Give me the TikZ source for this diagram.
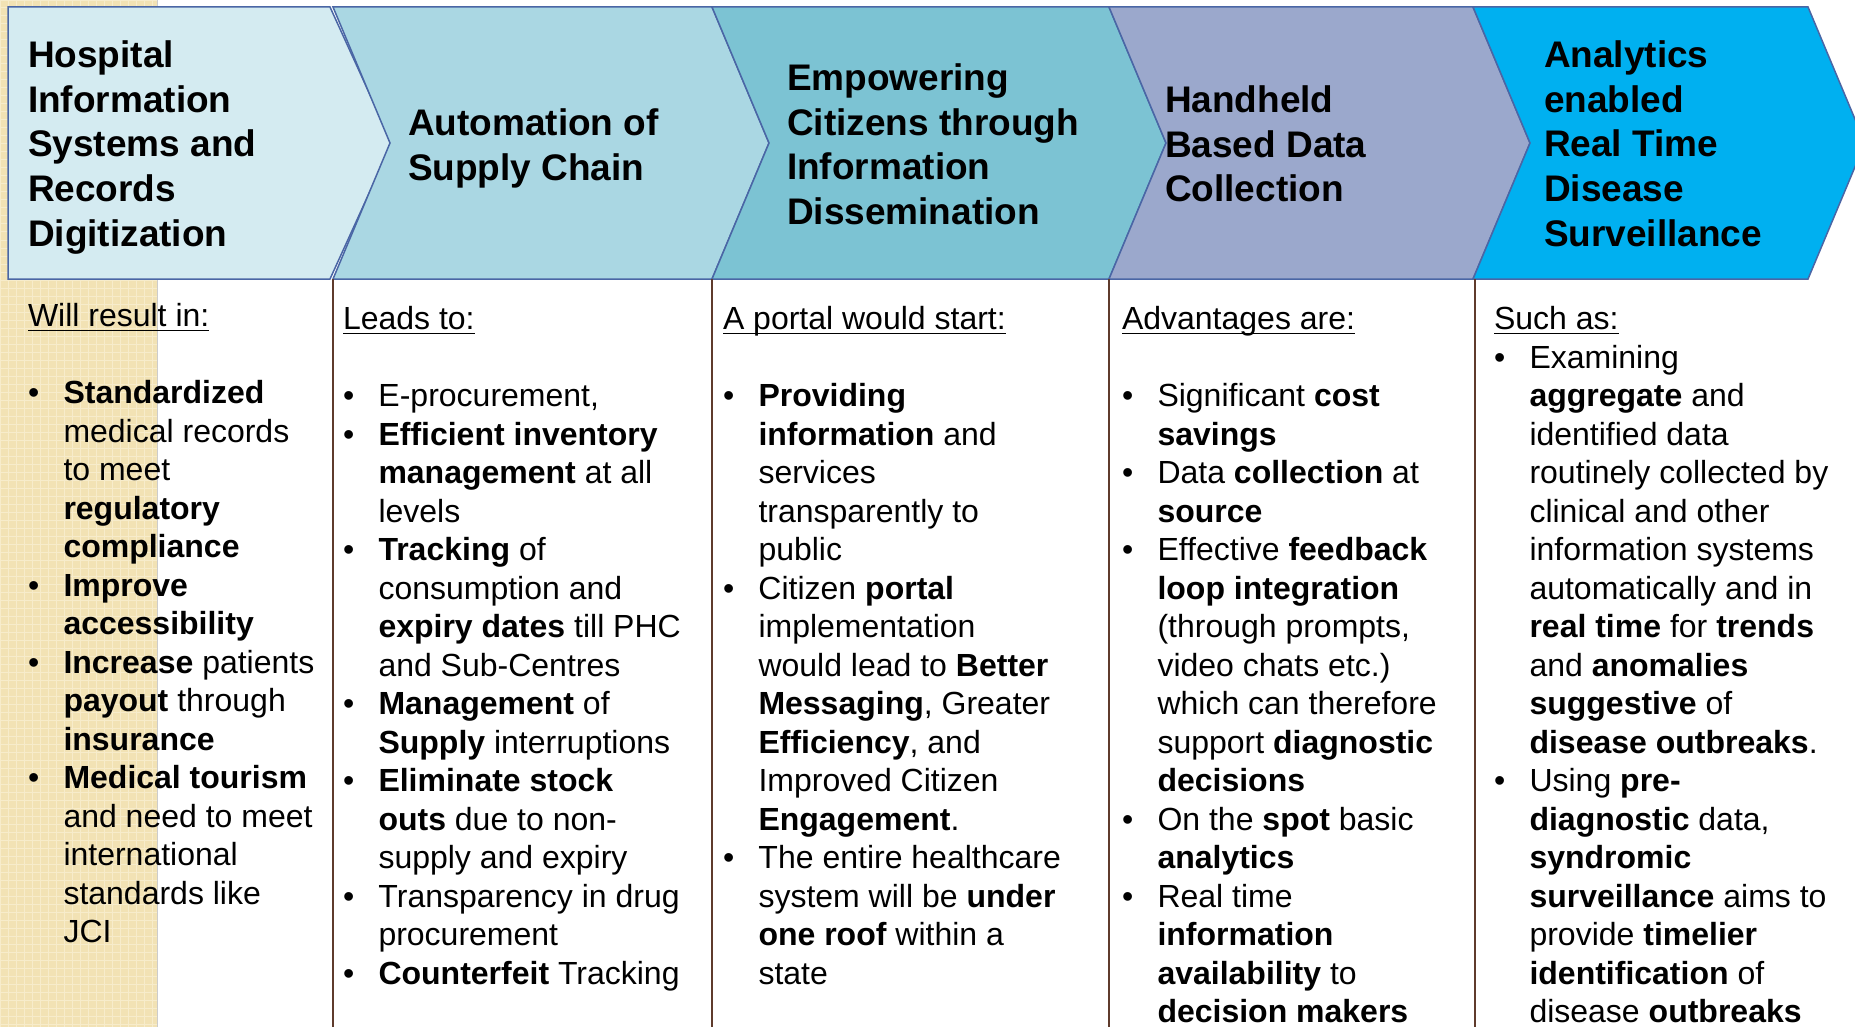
\documentclass[tikz,border=0pt]{standalone}
\usepackage{fontspec}
\setmainfont{Liberation Sans}
\usepackage{tikz}
\usetikzlibrary{math}

\definecolor{chevA}{HTML}{D4EBF1}
\definecolor{chevB}{HTML}{AAD7E3}
\definecolor{chevC}{HTML}{7CC3D3}
\definecolor{chevD}{HTML}{9BA8CC}
\definecolor{chevE}{HTML}{00B0F0}
\definecolor{chevLine}{HTML}{4A66A5}
\definecolor{sepBrown}{HTML}{5F3B2C}
\definecolor{tanBack}{HTML}{F2E2B4}
\definecolor{tanDot}{HTML}{F7ECCB}

\newcommand{\bitem}[1]{\makebox[35.5pt][l]{\textbullet}#1}
\newcommand{\bcont}[1]{\hspace*{35.5pt}#1}
\newcommand{\colhead}[1]{\setbox0\hbox{#1}\rlap{\rule[-4.5pt]{\wd0}{1.6pt}}\box0}

\begin{document}
\begin{tikzpicture}[x=1pt,y=-1pt,
    every node/.style={inner sep=0pt, outer sep=0pt, anchor=north west, align=left,
        execute at begin node=\strut},
    headtext/.style={font={\fontsize{37}{44.7}\selectfont\bfseries}},
    bodytext/.style={font={\fontsize{32}{38.5}\selectfont}},
    chevron/.style={draw=chevLine, line width=1.5pt}]
	\tikzmath{
		\rowTop = 7;
		\rowBot = 279;
		\rowMid = 143;
		\tipDepth = 57;
	}

    \useasboundingbox (0,0) rectangle (1855,1027);
    \begin{scope}
    \clip (0,0) rectangle (1855,1027);

    % textured strip on the left
    \fill[tanBack] (0,0) rectangle (157,1027);
    \draw[tanDot, step=8pt, line width=1pt] (0,1027) grid (157,0);
    \draw[black!20, line width=1pt] (157,0) -- (157,1027);

    % chevron row
    \draw[chevron, fill=chevA] (8,\rowTop) -- (330,\rowTop) -- (392,\rowMid) -- (330,\rowBot) -- (8,\rowBot) -- cycle;
    \foreach \xl/\xr/\col in {333/712/chevB, 712/1109/chevC, 1109/1473/chevD, 1473/1808/chevE}
        \draw[chevron, fill=\col] (\xl,\rowTop) -- (\xr,\rowTop) -- ({\xr+\tipDepth},\rowMid)
            -- (\xr,\rowBot) -- (\xl,\rowBot) -- ({\xl+\tipDepth},\rowMid) -- cycle;

    % column rules
    \foreach \xs in {333,712,1109,1475}
        \draw[sepBrown, line width=2.2pt] (\xs,\rowBot) -- (\xs,1027);

    % stage titles
    \node[headtext] (headHis) at (28,40.7) {Hospital\\Information\\Systems and\\Records\\Digitization};
    \node[headtext] (headSupply) at (408,108.7) {Automation of\\Supply Chain};
    \node[headtext] (headCitizen) at (787,63.7) {Empowering\\Citizens through\\Information\\Dissemination};
    \node[headtext] (headHandheld) at (1165,85.7) {Handheld\\Based Data\\Collection};
    \node[headtext] (headAnalytics) at (1544,40.7) {Analytics\\enabled\\Real Time\\Disease\\Surveillance};

    % stage details
    \node[bodytext] (listHis) at (28,303.5) {\colhead{Will result in:}\\ \\
        \bitem{\textbf{Standardized}}\\
        \bcont{medical records}\\
        \bcont{to meet}\\
        \bcont{\textbf{regulatory}}\\
        \bcont{\textbf{compliance}}\\
        \bitem{\textbf{Improve}}\\
        \bcont{\textbf{accessibility}}\\
        \bitem{\textbf{Increase} patients}\\
        \bcont{\textbf{payout} through}\\
        \bcont{\textbf{insurance}}\\
        \bitem{\textbf{Medical tourism}}\\
        \bcont{and need to meet}\\
        \bcont{international}\\
        \bcont{standards like}\\
        \bcont{JCI}};
    \node[bodytext] (listSupply) at (343,306.5) {\colhead{Leads to:}\\ \\
        \bitem{E-procurement,}\\
        \bitem{\textbf{Efficient inventory}}\\
        \bcont{\textbf{management} at all}\\
        \bcont{levels}\\
        \bitem{\textbf{Tracking} of}\\
        \bcont{consumption and}\\
        \bcont{\textbf{expiry dates} till PHC}\\
        \bcont{and Sub-Centres}\\
        \bitem{\textbf{Management} of}\\
        \bcont{\textbf{Supply} interruptions}\\
        \bitem{\textbf{Eliminate stock}}\\
        \bcont{\textbf{outs} due to non-}\\
        \bcont{supply and expiry}\\
        \bitem{Transparency in drug}\\
        \bcont{procurement}\\
        \bitem{\textbf{Counterfeit} Tracking}};
    \node[bodytext] (listCitizen) at (723,306.5) {\colhead{A portal would start:}\\ \\
        \bitem{\textbf{Providing}}\\
        \bcont{\textbf{information} and}\\
        \bcont{services}\\
        \bcont{transparently to}\\
        \bcont{public}\\
        \bitem{Citizen \textbf{portal}}\\
        \bcont{implementation}\\
        \bcont{would lead to \textbf{Better}}\\
        \bcont{\textbf{Messaging}, Greater}\\
        \bcont{\textbf{Efficiency}, and}\\
        \bcont{Improved Citizen}\\
        \bcont{\textbf{Engagement}.}\\
        \bitem{The entire healthcare}\\
        \bcont{system will be \textbf{under}}\\
        \bcont{\textbf{one roof} within a}\\
        \bcont{state}};
    \node[bodytext] (listHandheld) at (1122,306.5) {\colhead{Advantages are:}\\ \\
        \bitem{Significant \textbf{cost}}\\
        \bcont{\textbf{savings}}\\
        \bitem{Data \textbf{collection} at}\\
        \bcont{\textbf{source}}\\
        \bitem{Effective \textbf{feedback}}\\
        \bcont{\textbf{loop integration}}\\
        \bcont{(through prompts,}\\
        \bcont{video chats etc.)}\\
        \bcont{which can therefore}\\
        \bcont{support \textbf{diagnostic}}\\
        \bcont{\textbf{decisions}}\\
        \bitem{On the \textbf{spot} basic}\\
        \bcont{\textbf{analytics}}\\
        \bitem{Real time}\\
        \bcont{\textbf{information}}\\
        \bcont{\textbf{availability} to}\\
        \bcont{\textbf{decision makers}}};
    \node[bodytext] (listAnalytics) at (1494,306.5) {\colhead{Such as:}\\
        \bitem{Examining}\\
        \bcont{\textbf{aggregate} and}\\
        \bcont{identified data}\\
        \bcont{routinely collected by}\\
        \bcont{clinical and other}\\
        \bcont{information systems}\\
        \bcont{automatically and in}\\
        \bcont{\textbf{real time} for \textbf{trends}}\\
        \bcont{and \textbf{anomalies}}\\
        \bcont{\textbf{suggestive} of}\\
        \bcont{\textbf{disease outbreaks}.}\\
        \bitem{Using \textbf{pre-}}\\
        \bcont{\textbf{diagnostic} data,}\\
        \bcont{\textbf{syndromic}}\\
        \bcont{\textbf{surveillance} aims to}\\
        \bcont{provide \textbf{timelier}}\\
        \bcont{\textbf{identification} of}\\
        \bcont{disease \textbf{outbreaks}}};
    \end{scope}
\end{tikzpicture}
\end{document}
